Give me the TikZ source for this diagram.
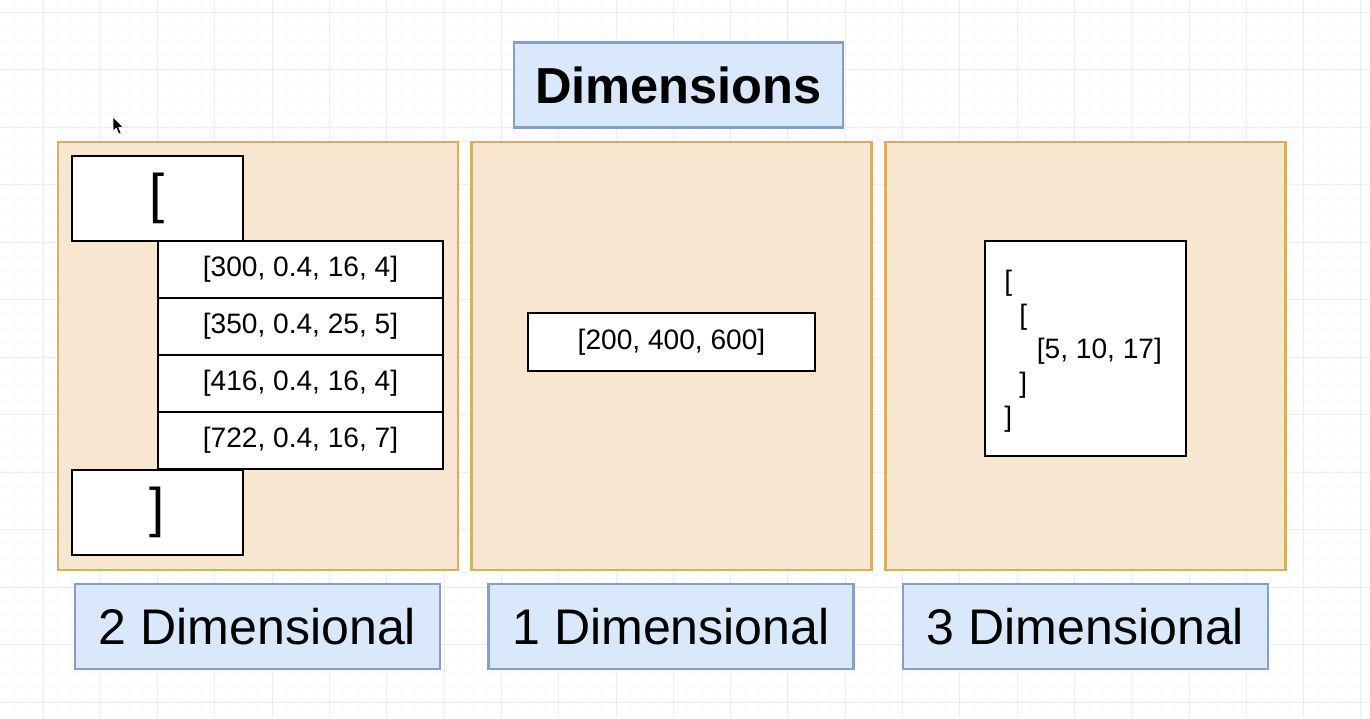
\documentclass[tikz,border=0pt]{standalone}
\usepackage{fontspec}
\setmainfont{Liberation Sans}
\definecolor{panelfill}{RGB}{249,230,208}
\definecolor{paneldraw}{RGB}{214,176,96}
\definecolor{bluefill}{RGB}{218,232,252}
\definecolor{bluedraw}{RGB}{135,158,200}
\begin{document}
\begin{tikzpicture}[x=0.02cm,y=-0.02cm,
  panel/.style={draw=paneldraw,fill=panelfill,line width=1.2pt,minimum width=8cm,minimum height=8.56cm,inner sep=0pt},
  bluebox/.style={draw=bluedraw,fill=bluefill,line width=1.2pt,minimum height=1.7cm,inner sep=0pt,font=\fontsize{28.5}{32}\selectfont},
  whitebox/.style={draw=black,fill=white,line width=1.3pt,inner sep=0pt},
  rowbox/.style={whitebox,minimum width=5.7cm,minimum height=1.14cm,font=\fontsize{16}{19}\selectfont},
  brackbox/.style={whitebox,minimum width=3.42cm,minimum height=1.7cm,font=\fontsize{31}{34}\selectfont}
]
\useasboundingbox (0,0) rectangle (1370,718);
\fill[white] (0,0) rectangle (1370,718);
% grid
\foreach \i in {0,...,95} {
  \draw[gray!5,line width=0.4pt] ({-0.3+\i*14.33},0) -- ({-0.3+\i*14.33},718);
}
\foreach \i in {0,...,50} {
  \draw[gray!5,line width=0.4pt] (0,{-2.4+\i*14.37}) -- (1370,{-2.4+\i*14.37});
}
\foreach \i in {0,...,23} {
  \draw[gray!14,line width=0.5pt] ({43+\i*57.3},0) -- ({43+\i*57.3},718);
}
\foreach \i in {0,...,12} {
  \draw[gray!14,line width=0.5pt] (0,{12+\i*57.5}) -- (1370,{12+\i*57.5});
}
% title
\node[bluebox,minimum width=6.58cm,font=\bfseries\fontsize{28.8}{32}\selectfont] (title) at (678.5,85) {Dimensions};
% panels
\node[panel] (p2d) at (258,356) {};
\node[panel] (p1d) at (671.5,356) {};
\node[panel] (p3d) at (1085.5,356) {};
% labels
\node[bluebox,minimum width=7.3cm] (l2d) at (257.5,626.5) {2 Dimensional};
\node[bluebox,minimum width=7.3cm] (l1d) at (671,626.5) {1 Dimensional};
\node[bluebox,minimum width=7.3cm] (l3d) at (1085.5,626.5) {3 Dimensional};
% 2D content
\node[brackbox] (open) at (157.5,198.5) {[};
\node[brackbox] (close) at (157.5,512.5) {]};
\node[rowbox] (r1) at (300.5,269.5) {[300, 0.4, 16, 4]};
\node[rowbox] (r2) at (300.5,326.5) {[350, 0.4, 25, 5]};
\node[rowbox] (r3) at (300.5,383.5) {[416, 0.4, 16, 4]};
\node[rowbox] (r4) at (300.5,440.5) {[722, 0.4, 16, 7]};
% 1D content
\node[whitebox,minimum width=5.74cm,minimum height=1.16cm,font=\fontsize{16}{19}\selectfont] (one) at (671.5,342) {[200, 400, 600]};
% 3D content
\node[whitebox,minimum width=4.02cm,minimum height=4.3cm] (three) at (1085.5,348.5) {};
\node[anchor=west,align=left,inner sep=0pt,font=\fontsize{16}{19.4}\selectfont] (threetxt) at (1004,351)
  {[\\\hspace*{8.5pt}[\\\hspace*{18.5pt}[5, 10, 17]\\\hspace*{8.5pt}]\\]};
% mouse cursor
\filldraw[fill=black,draw=white,line width=0.3pt] (113,117) -- (113,131) -- (116.3,128) -- (118.8,134) -- (121,133) -- (118.6,127.3) -- (123,127) -- cycle;
\end{tikzpicture}
\end{document}
